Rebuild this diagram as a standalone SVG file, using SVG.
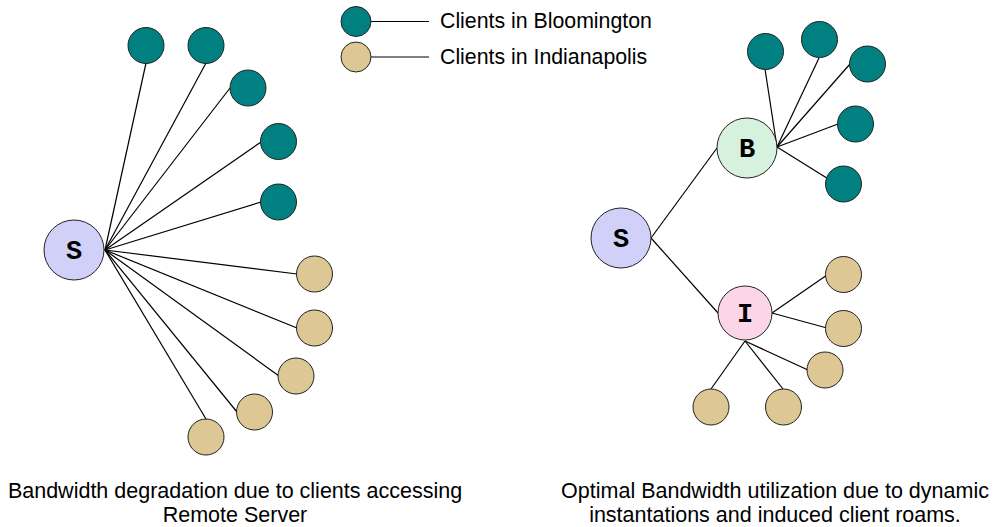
<svg xmlns="http://www.w3.org/2000/svg" width="993" height="527" viewBox="0 0 993 527">
<style>
.t{fill:#008080;stroke:#222;stroke-width:1}
.a{fill:#dcc795;stroke:#222;stroke-width:1}
.srv{stroke:#222;stroke-width:1}
.ln line{stroke:#000;stroke-width:1.2}
.lbl{font-family:"Liberation Mono","Courier New",monospace;font-weight:bold;font-size:27px;text-anchor:middle;fill:#000}
.txt{font-family:"Liberation Sans",Arial,sans-serif;font-size:21.3px;fill:#000}
.cap{font-family:"Liberation Sans",Arial,sans-serif;font-size:21.5px;fill:#000;text-anchor:middle}
</style>
<rect width="993" height="527" fill="#fff"/>
<g id="connectors" class="ln">
<line x1="105" y1="250" x2="146" y2="63"/>
<line x1="105" y1="250" x2="206" y2="63"/>
<line x1="105" y1="250" x2="230" y2="88"/>
<line x1="105" y1="250" x2="261" y2="142"/>
<line x1="105" y1="250" x2="261" y2="202"/>
<line x1="105" y1="250" x2="297" y2="274"/>
<line x1="105" y1="250" x2="297" y2="328"/>
<line x1="105" y1="250" x2="279" y2="376"/>
<line x1="105" y1="250" x2="237" y2="412"/>
<line x1="105" y1="250" x2="206" y2="419"/>
<line x1="371" y1="21.5" x2="429" y2="21.5"/>
<line x1="371" y1="57" x2="429" y2="57"/>
<line x1="651" y1="238" x2="717" y2="148"/>
<line x1="651" y1="238" x2="718" y2="313"/>
<line x1="777" y1="147" x2="765" y2="69"/>
<line x1="777" y1="147" x2="819" y2="58"/>
<line x1="777" y1="147" x2="850" y2="64"/>
<line x1="777" y1="147" x2="838" y2="124"/>
<line x1="777" y1="147" x2="830" y2="180"/>
<line x1="772" y1="313" x2="827" y2="275"/>
<line x1="772" y1="313" x2="827" y2="328"/>
<line x1="745" y1="341" x2="808" y2="370"/>
<line x1="745" y1="341" x2="783" y2="389"/>
<line x1="745" y1="341" x2="711" y2="389"/>
</g>
<g id="legend">
<g id="legend-bloomington"><circle class="t" cx="356" cy="21.5" r="15"/><text class="txt" x="440" y="28">Clients in Bloomington</text></g>
<g id="legend-indianapolis"><circle class="a" cx="356" cy="57" r="15"/><text class="txt" x="440" y="64">Clients in Indianapolis</text></g>
</g>
<g id="left-S"><circle class="srv" cx="74" cy="250" r="30" fill="#d0d0f8"/><text class="lbl" x="74" y="259">S</text></g>
<g id="left-b1"><circle class="t" cx="146" cy="45.5" r="18"/></g>
<g id="left-b2"><circle class="t" cx="206" cy="45.5" r="18"/></g>
<g id="left-b3"><circle class="t" cx="248" cy="88" r="18"/></g>
<g id="left-b4"><circle class="t" cx="278.5" cy="141.5" r="18"/></g>
<g id="left-b5"><circle class="t" cx="278.5" cy="202" r="18"/></g>
<g id="left-i1"><circle class="a" cx="314.5" cy="274" r="18"/></g>
<g id="left-i2"><circle class="a" cx="314.5" cy="328" r="18"/></g>
<g id="left-i3"><circle class="a" cx="296" cy="376" r="18"/></g>
<g id="left-i4"><circle class="a" cx="254.5" cy="412" r="18"/></g>
<g id="left-i5"><circle class="a" cx="206" cy="437" r="18"/></g>
<g id="right-S"><circle class="srv" cx="621" cy="238" r="30" fill="#d0d0f8"/><text class="lbl" x="621" y="247">S</text></g>
<g id="right-B"><circle class="srv" cx="747" cy="148" r="30" fill="#d6f2de"/><text class="lbl" x="747" y="157">B</text></g>
<g id="right-I"><circle class="srv" cx="745" cy="313" r="27" fill="#fcd6e8"/><text class="lbl" x="745" y="322">I</text></g>
<g id="right-b1"><circle class="t" cx="765.5" cy="51.5" r="18"/></g>
<g id="right-b2"><circle class="t" cx="819.5" cy="39.5" r="18"/></g>
<g id="right-b3"><circle class="t" cx="867.5" cy="64" r="18"/></g>
<g id="right-b4"><circle class="t" cx="855.5" cy="124" r="18"/></g>
<g id="right-b5"><circle class="t" cx="843.5" cy="184" r="18"/></g>
<g id="right-i1"><circle class="a" cx="843.5" cy="274.5" r="18"/></g>
<g id="right-i2"><circle class="a" cx="843.5" cy="328.5" r="18"/></g>
<g id="right-i3"><circle class="a" cx="825" cy="370" r="18"/></g>
<g id="right-i4"><circle class="a" cx="783.5" cy="407" r="18"/></g>
<g id="right-i5"><circle class="a" cx="711" cy="407" r="18"/></g>
<g id="captions">
<text class="cap" x="235" y="498">Bandwidth degradation due to clients accessing</text>
<text class="cap" x="235" y="522">Remote Server</text>
<text class="cap" x="775" y="498">Optimal Bandwidth utilization due to dynamic</text>
<text class="cap" x="775" y="522">instantations and induced client roams.</text>
</g>
</svg>
